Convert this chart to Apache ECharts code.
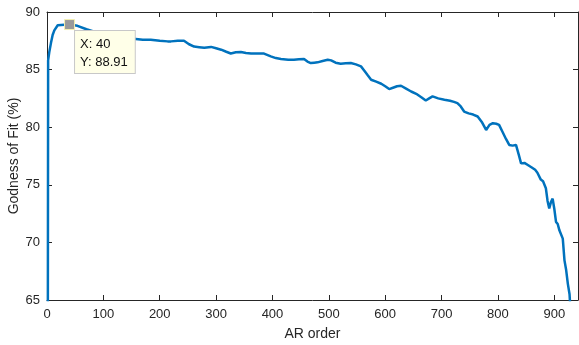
<!DOCTYPE html>
<html>
<head>
<meta charset="utf-8">
<script src="https://cdn.jsdelivr.net/npm/echarts@6/dist/echarts.min.js"></script>
<style>
  html, body { margin: 0; padding: 0; background: #fff; }
  #chart { width: 579px; height: 345px; }
</style>
</head>
<body>
<div id="chart"></div>
<script>
// AR order (x) and goodness of fit (%)
const arOrder = [1, 2, 4, 7, 10, 13, 19, 31, 40, 54, 70, 84, 100, 120, 149, 170, 184, 200, 214, 220,
  232, 243, 252, 261, 270, 279, 291, 300, 309, 318, 326, 335, 344, 353, 362, 375, 385, 397, 406, 415,
  428, 438, 447, 456, 462, 468, 474, 480, 489, 498, 504, 512, 521, 530, 539, 548, 557, 563, 569, 575,
  584, 593, 600, 607, 615, 621, 628, 637, 646, 655, 664, 672, 678, 684, 694, 705, 715, 722, 728, 734,
  740, 748, 756, 764, 772, 779, 785, 791, 797, 802, 808, 814, 820, 826, 832, 837, 841, 847, 853, 860,
  866, 870, 876, 880, 885, 888, 891, 894, 897, 900, 903, 906, 909, 912, 915, 918, 921, 924, 927, 930];
const fitPct = [40, 85.8, 86.5, 87.3, 88.0, 88.4, 88.85, 88.9, 88.91, 88.8, 88.5, 88.3, 88.0, 87.8, 87.7, 87.6, 87.6, 87.5, 87.45, 87.45,
  87.5, 87.5, 87.2, 87.0, 86.95, 86.9, 86.97, 86.85, 86.73, 86.55, 86.4, 86.5, 86.53, 86.45, 86.4, 86.4, 86.39, 86.15, 86.0, 85.92,
  85.85, 85.86, 85.9, 85.92, 85.7, 85.57, 85.6, 85.63, 85.75, 85.86, 85.8, 85.6, 85.51, 85.55, 85.57, 85.45, 85.28, 84.9, 84.5, 84.12,
  83.95, 83.77, 83.55, 83.31, 83.45, 83.55, 83.6, 83.35, 83.1, 82.9, 82.6, 82.32, 82.5, 82.67, 82.5, 82.38, 82.3, 82.2, 82.09, 81.8,
  81.36, 81.2, 81.1, 80.93, 80.4, 79.76, 80.2, 80.35, 80.3, 80.2, 79.6, 79.0, 78.46, 78.4, 78.46, 77.6, 76.86, 76.9, 76.72, 76.5,
  76.3, 76.05, 75.45, 75.3, 74.7, 73.6, 72.94, 73.5, 73.8, 72.9, 71.78, 71.6, 71.05, 70.9, 70.33, 68.44, 67.6, 66.4, 65.5, 63];

// data tip
const tipX = 40;
const tipY = 88.91;

const axisColor = '#262626';
const fontFamily = '"Liberation Sans", Arial, Helvetica, sans-serif';

let chart = echarts.init(document.getElementById('chart'), null, { renderer: 'canvas' });

let boxAxis = {
  axisLine: { show: true, onZero: false, lineStyle: { color: axisColor, width: 1 } },
  axisTick: { show: true, inside: true, length: 5, lineStyle: { color: axisColor } },
  splitLine: { show: false },
};

let option = {
  animation: false,
  backgroundColor: '#fff',
  textStyle: { fontFamily: fontFamily },
  grid: { left: 47, right: 1, top: 12, bottom: 45, outerBoundsMode: 'none', containLabel: false },
  xAxis: [
    {
      type: 'value', min: 0, max: 942, interval: 100, position: 'bottom',
      name: 'AR order', nameLocation: 'middle', nameGap: 27, nameMoveOverlap: false,
      nameTextStyle: { color: axisColor, fontSize: 14, fontFamily: fontFamily },
      ...boxAxis,
      axisLabel: {
        color: axisColor, fontSize: 13, margin: 8, fontFamily: fontFamily,
        formatter: (v) => (v % 100 === 0 ? String(v) : ''),
      },
    },
    {
      type: 'value', min: 0, max: 942, interval: 100, position: 'top',
      ...boxAxis,
      axisLabel: { show: false },
    },
  ],
  yAxis: [
    {
      type: 'value', min: 65, max: 90, interval: 5, position: 'left',
      name: 'Godness of Fit (%)', nameLocation: 'middle', nameGap: 26, nameMoveOverlap: false,
      nameTextStyle: { color: axisColor, fontSize: 14, fontFamily: fontFamily },
      ...boxAxis,
      axisLabel: { color: axisColor, fontSize: 13, margin: 7, fontFamily: fontFamily },
    },
    {
      type: 'value', min: 65, max: 90, interval: 5, position: 'right',
      ...boxAxis,
      axisLabel: { show: false },
    },
  ],
  series: [
    {
      type: 'line',
      xAxisIndex: 0,
      yAxisIndex: 0,
      data: arOrder.map((x, i) => [x, fitPct[i]]),
      showSymbol: false,
      clip: true,
      lineStyle: { color: '#0072BD', width: 2.5 },
      markPoint: {
        symbol: 'rect',
        symbolSize: 10,
        itemStyle: { color: '#9a9a9a', borderColor: '#f4f0b0', borderWidth: 1 },
        label: {
          show: true,
          position: [11, 12],
          formatter: () => 'X: ' + tipX + '\nY: ' + tipY,
          color: '#111',
          fontSize: 13,
          lineHeight: 18,
          fontFamily: fontFamily,
          backgroundColor: '#FFFFE8',
          borderColor: '#c8c8c8',
          borderWidth: 1,
          padding: [4, 7, 2, 5],
        },
        data: [{ coord: [tipX, tipY] }],
      },
    },
  ],
};

chart.setOption(option);
</script>
</body>
</html>
